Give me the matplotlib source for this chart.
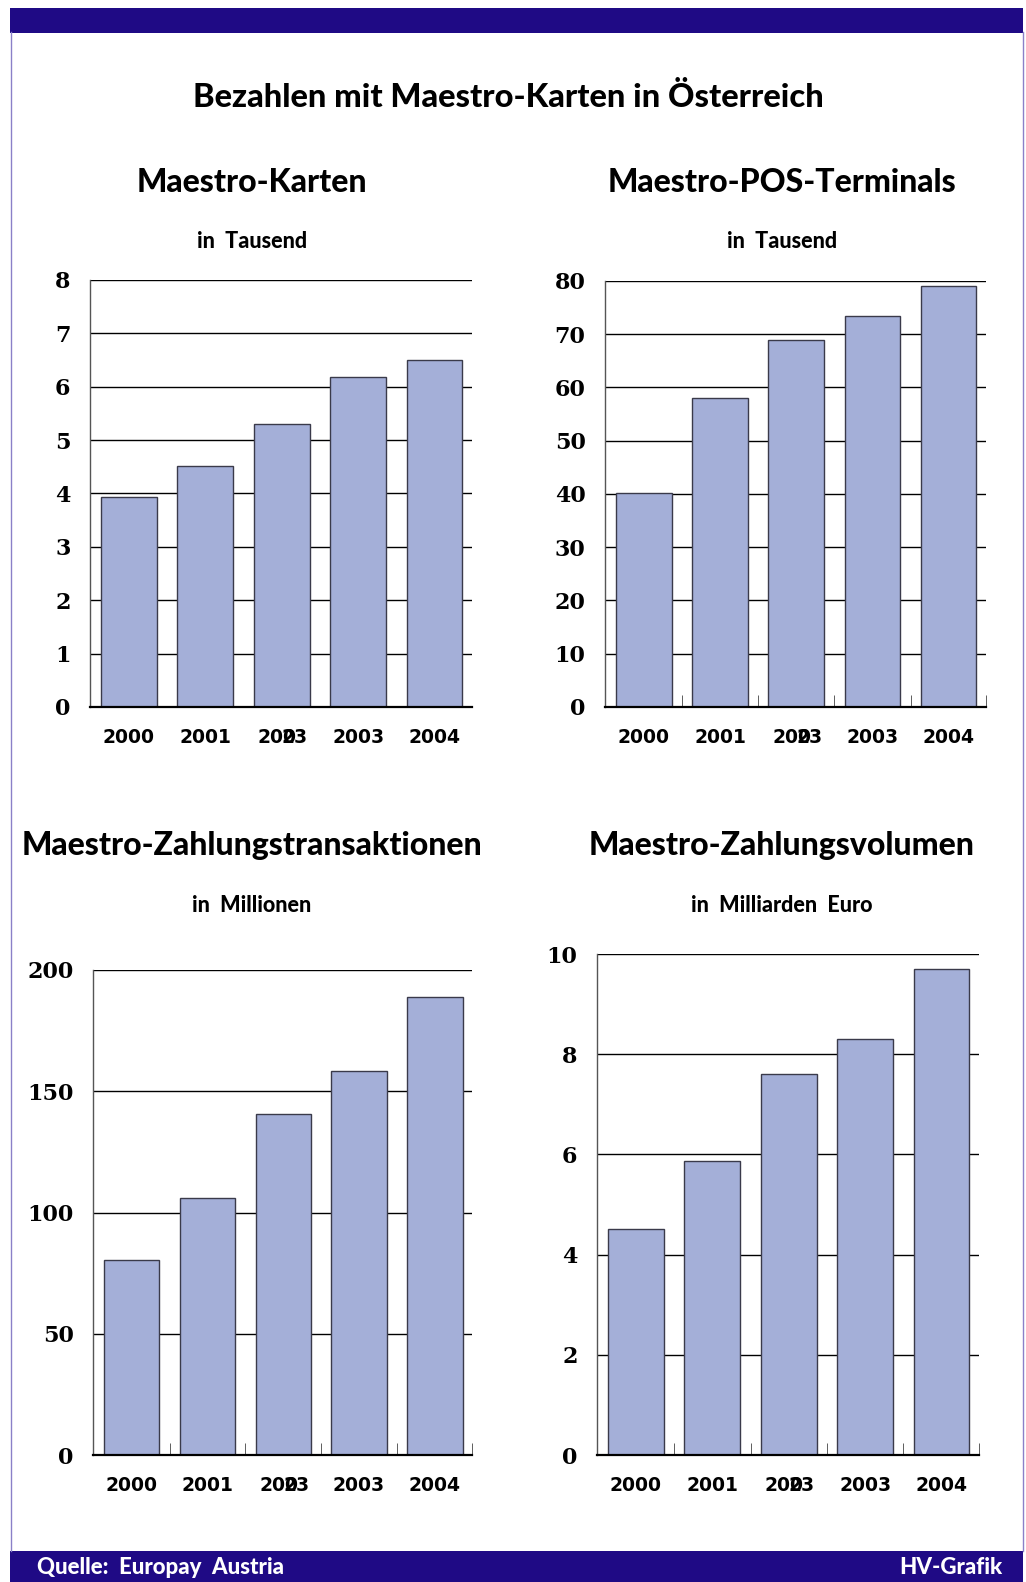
import matplotlib
matplotlib.use("Agg")
import matplotlib.pyplot as plt
from matplotlib.patches import Rectangle
from matplotlib.lines import Line2D
from matplotlib import transforms
import numpy as np

# data
years = ["2000", "2001", "2002", "2003", "2004"]
karten = [3.93, 4.52, 5.3, 6.18, 6.5]
terminals = [40.2, 58.0, 69.0, 73.4, 79.0]
transaktionen = [80.4, 106.0, 140.8, 158.3, 188.7]
volumen = [4.52, 5.87, 7.6, 8.31, 9.7]

titles = ["Maestro-Karten", "Maestro-POS-Terminals",
          "Maestro-Zahlungstransaktionen", "Maestro-Zahlungsvolumen"]
subtitles = ["in  Tausend", "in  Tausend", "in  Millionen", "in  Milliarden  Euro"]

W, H = 1026, 1582
NAVY = "#1f0a85"
BAR = "#a4afd8"
title_font = ["Lato", "DejaVu Sans"]
num_font = ["DejaVu Serif"]
year_font = ["DejaVu Sans"]
NUM_SIZE = 16
YEAR_SIZE = 13.5

fig = plt.figure(figsize=(W / 100, H / 100), dpi=100)
fig.patch.set_facecolor("white")


def px(x0, y0, x1, y1):
    # pixel box (top-left origin) -> figure fraction
    return [x0 / W, 1 - y1 / H, (x1 - x0) / W, (y1 - y0) / H]


# page frame and bands
for xx in (10.5, 1022.5):
    fig.lines.append(Line2D([xx / W, xx / W], [31 / H, 1 - 32 / H], transform=fig.transFigure,
                            color="#8a80c8", lw=1))
fig.patches.append(Rectangle((10 / W, 1 - 33 / H), 1013 / W, 25 / H,
                             transform=fig.transFigure, facecolor=NAVY, edgecolor="none"))
fig.patches.append(Rectangle((10 / W, 0), 1013 / W, 31 / H,
                             transform=fig.transFigure, facecolor=NAVY, edgecolor="none"))

fig.text(508 / W, 1 - 97 / H, "Bezahlen mit Maestro-Karten in Österreich", ha="center",
         va="center", fontsize=23.5, fontweight="black", family=title_font)
fig.text(37 / W, 15 / H, "Quelle:  Europay  Austria", ha="left", va="center",
         fontsize=16, fontweight="black", color="white", family=title_font)
fig.text(1002 / W, 15 / H, "HV-Grafik", ha="right", va="center",
         fontsize=16, fontweight="black", color="white", family=title_font)

panels = [
    (karten, 8, 1, (90, 280, 472, 707), 252, 183, 242, False),
    (terminals, 80, 10, (605, 281, 986, 707), 782, 183, 242, True),
    (transaktionen, 200, 50, (93, 970, 472, 1455), 252, 846, 906, True),
    (volumen, 10, 2, (597, 954, 979, 1455), 782, 846, 906, True),
]

for i, (vals, ymax, step, box, cx, ty, sy, xticks) in enumerate(panels):
    ax = fig.add_axes(px(*box))
    x = np.arange(len(years))
    ax.bar(x, vals, width=0.73, color=BAR, edgecolor="#3a3a4a", linewidth=1.0, zorder=3)
    ax.set_xlim(-0.51, 4.49)
    ax.set_ylim(0, ymax)
    ticks = np.arange(0, ymax + step / 2, step)
    ax.set_yticks(ticks)
    ax.set_yticklabels(["%d" % t for t in ticks], family=num_font,
                       fontweight="bold", fontsize=NUM_SIZE)
    for t in ticks[1:]:
        ax.axhline(t, color="black", lw=1.0, zorder=1)
    ax.tick_params(axis="y", length=0, pad=14)
    for s in ["top", "right"]:
        ax.spines[s].set_visible(False)
    ax.spines["left"].set_color("#555555")
    ax.spines["left"].set_linewidth(1.0)
    ax.spines["bottom"].set_linewidth(1.6)
    ax.spines["bottom"].set_zorder(4)
    if xticks:
        ax.set_xticks(list(x[:-1] + 0.5) + [4.49], minor=True)
        ax.tick_params(axis="x", which="minor", direction="in", length=9, color="#444444")
    ax.set_xticks(x)
    labels = list(years)
    labels[2] = ""
    ax.set_xticklabels(labels, family=year_font, fontweight="bold", fontsize=YEAR_SIZE)
    ax.tick_params(axis="x", which="major", length=0, pad=15)

    # third label: two overlapping strings, as printed in the original
    d = YEAR_SIZE * 0.6
    base = ax.get_xaxis_transform()
    ta = transforms.offset_copy(base, fig=fig, x=-2 * d - 1, y=0, units="points")
    tb = transforms.offset_copy(base, fig=fig, x=2 * d + 2.5, y=0, units="points")
    lab_y = -15 / 72 * 100 / (box[3] - box[1])
    ax.text(2, lab_y, "200", transform=ta, ha="left", va="top",
            family=year_font, fontweight="bold", fontsize=YEAR_SIZE)
    ax.text(2, lab_y, "23", transform=tb, ha="right", va="top",
            family=year_font, fontweight="bold", fontsize=YEAR_SIZE)

    fig.text(cx / W, 1 - ty / H, titles[i], ha="center", va="center", fontsize=23,
             fontweight="black", family=title_font)
    fig.text(cx / W, 1 - sy / H, subtitles[i], ha="center", va="center", fontsize=15.5,
             fontweight="black", family=title_font)

fig.savefig("out.png", dpi=100)
